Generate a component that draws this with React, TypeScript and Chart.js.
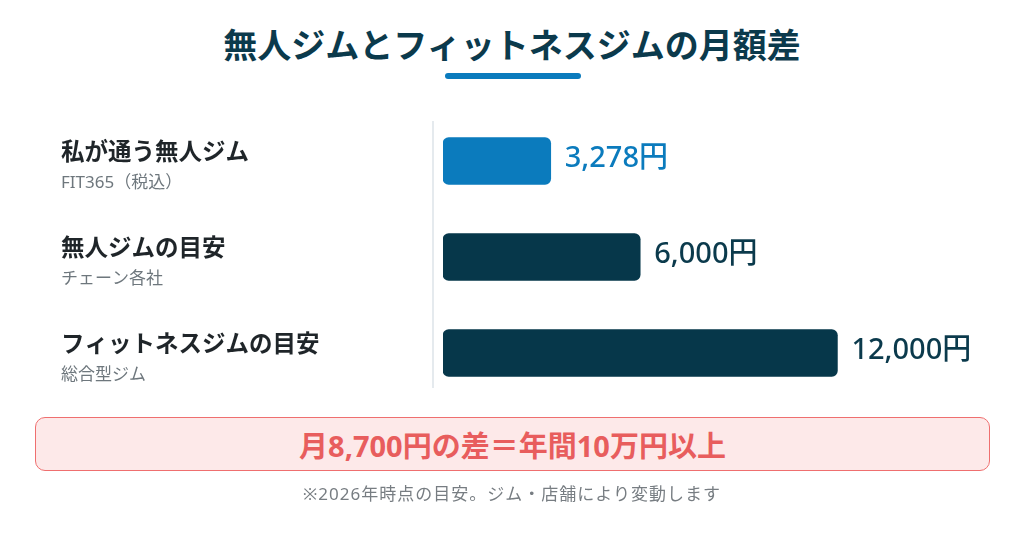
import React, { useEffect, useRef } from "react";
import { Chart, registerables } from "chart.js";

Chart.register(...registerables);

const titleText = "無人ジムとフィットネスジムの月額差";
const categories = ["私が通う無人ジム", "無人ジムの目安", "フィットネスジムの目安"];
const subLabels = ["FIT365（税込）", "チェーン各社", "総合型ジム"];
const values = [3278, 6000, 12000];
const barColors = ["#0b7bbd", "#06374a", "#06374a"];
const valueColors = ["#0b7bbd", "#0b3a4c", "#0b3a4c"];
const summaryText = "月8,700円の差＝年間10万円以上";
const footnoteText = "※2026年時点の目安。ジム・店舗により変動します";

const JP = "'Noto Sans CJK JP', 'Noto Sans', sans-serif";
const NUM = "'Noto Sans', 'Noto Sans CJK JP', sans-serif";

const labelPlugin = {
  id: "labelPlugin",
  afterDatasetsDraw(chart: any) {
    const { ctx, chartArea } = chart;
    const meta = chart.getDatasetMeta(0);
    const yScale = chart.scales.y;
    ctx.save();
    // divider line
    ctx.strokeStyle = "#dde3e8";
    ctx.lineWidth = 1.5;
    ctx.beginPath();
    ctx.moveTo(chartArea.left - 10, chartArea.top + 8);
    ctx.lineTo(chartArea.left - 10, chartArea.bottom - 13);
    ctx.stroke();

    categories.forEach((cat, i) => {
      const yc = yScale.getPixelForValue(i);
      ctx.textBaseline = "middle";
      ctx.textAlign = "left";
      ctx.fillStyle = "#1f2529";
      ctx.font = `bold 23.5px ${JP}`;
      ctx.fillText(cat, 61, yc - 10);
      ctx.fillStyle = "#6e777d";
      ctx.font = `17px ${NUM}`;
      ctx.fillText(subLabels[i], 61, yc + 22);

      const bar = meta.data[i];
      ctx.fillStyle = valueColors[i];
      ctx.font = `500 29px ${NUM}`;
      ctx.fillText(values[i].toLocaleString("en-US") + "円", bar.x + 14, yc - 2);
    });
    ctx.restore();
  },
};

export default function App() {
  const ref = useRef<HTMLCanvasElement | null>(null);
  useEffect(() => {
    if (!ref.current) return;
    const chart = new Chart(ref.current, {
      type: "bar",
      data: {
        labels: categories,
        datasets: [
          {
            data: values,
            backgroundColor: barColors,
            borderRadius: 6,
            borderSkipped: false,
            barThickness: 47,
          },
        ],
      },
      options: {
        indexAxis: "y",
        responsive: false,
        animation: false,
        layout: { padding: { left: 443, right: 88, top: 113, bottom: 137 } },
        scales: {
          x: { min: 0, max: 15000, display: false },
          y: { display: false },
        },
        plugins: { legend: { display: false }, tooltip: { enabled: false } },
      },
      plugins: [labelPlugin],
    } as any);
    return () => chart.destroy();
  }, []);

  return (
    <div
      style={{
        position: "fixed",
        left: 0,
        top: 0,
        width: 1024,
        height: 538,
        background: "#ffffff",
        fontFamily: JP,
      }}
    >
      <div
        style={{
          position: "absolute",
          top: 22,
          left: 0,
          width: 1024,
          textAlign: "center",
          fontSize: 34,
          lineHeight: "44px",
          fontWeight: 700,
          color: "#0b3a4c",
        }}
      >
        {titleText}
      </div>
      <div
        style={{
          position: "absolute",
          top: 73,
          left: 445,
          width: 136,
          height: 6,
          borderRadius: 3,
          background: "#0b7bbd",
        }}
      />
      <canvas ref={ref} width={1024} height={538} style={{ position: "absolute", left: 0, top: 0 }} />
      <div
        style={{
          position: "absolute",
          left: 35,
          top: 417,
          width: 955,
          height: 54,
          boxSizing: "border-box",
          border: "1.5px solid #ef6f6f",
          borderRadius: 10,
          background: "#fde9e9",
          display: "flex",
          alignItems: "center",
          justifyContent: "center",
          fontSize: 29,
          fontWeight: 700,
          color: "#e85d5d",
          fontFamily: NUM,
        }}
      >
        {summaryText}
      </div>
      <div
        style={{
          position: "absolute",
          top: 482,
          left: 0,
          width: 1024,
          textAlign: "center",
          fontSize: 17,
          letterSpacing: 1,
          lineHeight: "24px",
          color: "#777d82",
          fontFamily: NUM,
        }}
      >
        {footnoteText}
      </div>
    </div>
  );
}
